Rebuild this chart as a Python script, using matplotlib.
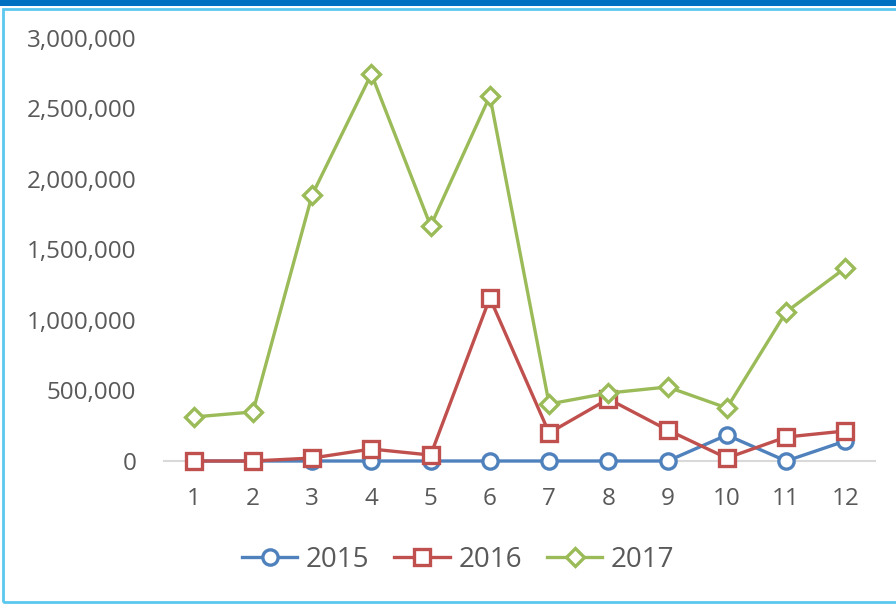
import matplotlib
matplotlib.use("Agg")
import matplotlib.pyplot as plt
from matplotlib.patches import Rectangle
from matplotlib.ticker import FuncFormatter

plt.rcParams['font.family'] = ['Open Sans', 'DejaVu Sans']

months = [1, 2, 3, 4, 5, 6, 7, 8, 9, 10, 11, 12]
s2015 = [0, 0, 0, 0, 0, 0, 0, 0, 0, 184000, 0, 142000]
s2016 = [0, 0, 21000, 85000, 42000, 1156000, 199000, 440000, 220000, 21000, 170000, 213000]
s2017 = [312000, 348000, 1887000, 2745000, 1667000, 2589000, 404000, 482000, 525000, 376000, 1057000, 1369000]
series = [("2015", s2015, "#4F81BD", "o", 11),
          ("2016", s2016, "#C0504D", "s", 12),
          ("2017", s2017, "#9BBB59", "D", 9)]

W, H = 896, 605
fig = plt.figure(figsize=(W/100, H/100), dpi=100)
ax = fig.add_axes([164/W, 1-461/H, (875-164)/W, (461-38)/H])

x = list(range(len(months)))
for name, vals, col, mk, ms in series:
    ax.plot(x, vals, color=col, lw=2.4, marker=mk, ms=ms, mfc="white",
            mec=col, mew=2.4, label=name, clip_on=False, zorder=3)

ax.set_xlim(-0.5, len(months)-0.5)
ax.set_ylim(0, 3000000)
ax.set_yticks(range(0, 3000001, 500000))
ax.yaxis.set_major_formatter(FuncFormatter(lambda v, p: f"{int(v):,}"))
ax.set_xticks(x)
ax.set_xticklabels([str(m) for m in months])
ax.tick_params(axis='both', length=0, labelsize=17.5, labelcolor="#595959")
ax.tick_params(axis='y', pad=20)
ax.tick_params(axis='x', pad=19)
for sp in ["top", "right", "left"]:
    ax.spines[sp].set_visible(False)
ax.spines["bottom"].set_color("#D9D9D9")
ax.spines["bottom"].set_linewidth(1.5)
ax.spines["bottom"].set_zorder(1)

leg = fig.legend(loc="center", bbox_to_anchor=(458/W, 1-560/H), ncol=3, frameon=False,
                 fontsize=20, handlelength=2.0, columnspacing=0.9, handletextpad=0.3,
                 labelcolor="#595959")

# frame decorations
fig.patches.append(Rectangle((0, 1-6/H), 1, 6/H, transform=fig.transFigure,
                             facecolor="#0070C0", edgecolor="none", zorder=0))
fig.patches.append(Rectangle((3/W, 3/H), 1-3/W+0.01, 1-9/H-3/H, transform=fig.transFigure,
                             facecolor="none", edgecolor="#5BC8F0", lw=2, zorder=0))

fig.savefig("out.png", dpi=100)
